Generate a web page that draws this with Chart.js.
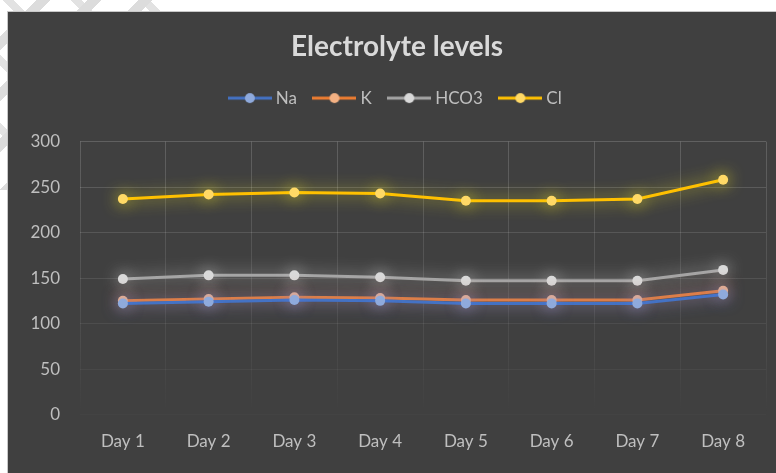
<!DOCTYPE html>
<html>
<head>
<meta charset="utf-8">
<script src="https://cdn.jsdelivr.net/npm/chart.js@4"></script>
<style>
  html, body { margin: 0; padding: 0; background: #fff; width: 776px; height: 473px; overflow: hidden; }
  #marks {
    position: absolute; left: 0; top: 0; width: 170px; height: 190px;
    background:
      repeating-linear-gradient(135deg, transparent 0 26px, #dcdcdc 26px 36px),
      repeating-linear-gradient(45deg, transparent 0 40px, #e2e2e2 40px 48px);
  }
  #panel {
    position: absolute; left: 7px; top: 11px; width: 769px; height: 462px;
    background: #404040; border-left: 1px solid #c8c8c8; border-top: 1px solid #c8c8c8;
    box-sizing: border-box;
  }
  /* chart runs a bit past the right edge like the cropped original */
  #wrap { position: absolute; left: 8px; top: 12px; width: 786px; height: 461px; }
</style>
</head>
<body>
<div id="marks"></div>
<div id="panel"></div>
<div id="wrap"><canvas id="myChart"></canvas></div>
<script>
// chart data
var days = ["Day 1", "Day 2", "Day 3", "Day 4", "Day 5", "Day 6", "Day 7", "Day 8"];
var na = [122, 124, 126, 125, 122, 122, 122, 132];
var k = [125, 127, 129, 128, 126, 126, 126, 136];
var hco3 = [149, 153, 153, 151, 147, 147, 147, 159];
var cl = [237, 242, 244, 243, 235, 235, 237, 258];
var yTicks = [0, 50, 100, 150, 200, 250, 300];

var textColor = "#bfbfbf";

// little line+dot picture for each legend entry
function legendMark(line, dot){
  var c = document.createElement("canvas");
  c.width = 44; c.height = 12;
  var g = c.getContext("2d");
  g.strokeStyle = line; g.lineWidth = 3;
  g.beginPath(); g.moveTo(0, 6); g.lineTo(44, 6); g.stroke();
  g.fillStyle = dot;
  g.beginPath(); g.arc(22, 6, 5, 0, Math.PI*2); g.fill();
  return c;
}

function series(label, values, line, dot, glow){
  return {
    label: label,
    data: values,
    borderColor: line,
    backgroundColor: dot,
    pointBackgroundColor: dot,
    pointBorderWidth: 0,
    pointRadius: 5,
    borderWidth: 3,
    tension: 0,
    glow: glow,
    pointStyle: "circle",
    legendImg: legendMark(line, dot)
  };
}

//glow around lines and markers
var glowPlugin = {
  id: "glow",
  beforeDatasetDraw: function(chart, args){
    var ds = chart.data.datasets[args.index];
    chart.ctx.save();
    chart.ctx.shadowColor = ds.glow;
    chart.ctx.shadowBlur = 16;
  },
  afterDatasetDraw: function(chart){
    chart.ctx.restore();
  }
};

// more room under the legend
var legendRoom = {
  id: "legendRoom",
  beforeInit: function(chart){
    var fit = chart.legend.fit;
    chart.legend.fit = function(){
      fit.bind(chart.legend)();
      this.height += 25;
    };
  }
};

function fadeV(ctx){
  var chart = ctx.chart, a = chart.chartArea;
  if (!a) return "rgba(255,255,255,0.15)";
  var g = chart.ctx.createLinearGradient(0, a.top, 0, a.bottom);
  g.addColorStop(0, "rgba(255,255,255,0.17)");
  g.addColorStop(0.75, "rgba(255,255,255,0.06)");
  g.addColorStop(1, "rgba(255,255,255,0)");
  return g;
}

new Chart("myChart", {
  type: "line",
  data: {
    labels: days,
    datasets: [
      series("Na", na, "#4472c4", "#8faadc", "rgba(100,140,255,0.85)"),
      series("K", k, "#ed7d31", "#f4b183", "rgba(255,140,70,0.8)"),
      series("HCO3", hco3, "#a5a5a5", "#d9d9d9", "rgba(235,235,235,0.75)"),
      series("Cl", cl, "#ffc000", "#ffd966", "rgba(240,230,40,0.9)")
    ]
  },
  plugins: [glowPlugin, legendRoom],
  options: {
    responsive: true,
    maintainAspectRatio: false,
    animation: false,
    layout: { padding: { left: 20, right: 28, top: 0, bottom: 4 } },
    plugins: {
      title: {
        display: true,
        text: "Electrolyte levels",
        color: "#d9d9d9",
        font: { family: "Lato", size: 28, weight: "bold" },
        padding: { top: 18, bottom: 6 }
      },
      legend: {
        position: "top",
        labels: {
          color: textColor,
          font: { family: "Lato", size: 17 },
          usePointStyle: true,
          pointStyleWidth: 35,
          padding: 20,
          generateLabels: function(chart){
            return chart.data.datasets.map(function(ds, i){
              return {
                text: ds.label,
                fontColor: textColor,
                pointStyle: ds.legendImg,
                datasetIndex: i,
                lineWidth: 0,
                hidden: false
              };
            });
          }
        }
      },
      tooltip: { enabled: false }
    },
    scales: {
      x: {
        offset: true,
        grid: { offset: true, color: fadeV, drawTicks: false },
        border: { display: false },
        ticks: { color: textColor, font: { family: "Lato", size: 17 }, padding: 17 }
      },
      y: {
        min: 0,
        max: 300,
        afterBuildTicks: function(axis){
          axis.ticks = yTicks.map(function(v){ return { value: v }; });
        },
        afterFit: function(axis){
          axis.width = 52;
        },
        grid: {
          drawTicks: false,
          color: function(ctx){
            var v = ctx.tick ? ctx.tick.value : 0;
            return "rgba(255,255,255," + (0.02 + 0.15 * v / 300).toFixed(3) + ")";
          }
        },
        border: { display: false },
        ticks: { color: textColor, font: { family: "Lato", size: 17 }, padding: 20 }
      }
    }
  }
});
</script>
</body>
</html>
